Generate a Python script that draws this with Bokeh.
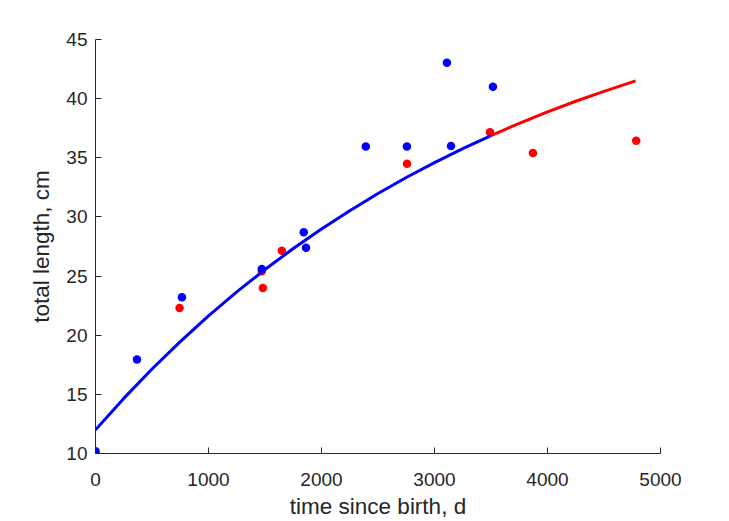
from bokeh.plotting import figure
from bokeh.models import Range1d, FixedTicker
from bokeh.embed import file_html
from bokeh.resources import INLINE

# observed data, blue series
blue_t = [0, 367, 765, 1472, 1843, 1863, 2392, 2756, 3110, 3146, 3517]
blue_L = [10.2, 17.95, 23.2, 25.6, 28.7, 27.4, 35.95, 35.95, 43.03, 36.0, 41.0]

# observed data, red series
red_t = [0, 744, 1472, 1481, 1649, 2757, 3491, 3871, 4785]
red_L = [10.0, 22.3, 25.4, 24.0, 27.15, 34.5, 37.15, 35.4, 36.45]

# fitted growth curve
fit_blue_t = [0, 250, 500, 750, 1000, 1250, 1500, 1750, 2000, 2250, 2500, 2750, 3000, 3250, 3500]
fit_blue_L = [12.0, 14.66, 17.14, 19.46, 21.63, 23.66, 25.55, 27.33, 28.98, 30.53, 31.98, 33.33, 34.59, 35.77, 36.88]
fit_red_t = [3500, 3750, 4000, 4250, 4500, 4780]
fit_red_L = [36.88, 37.91, 38.88, 39.78, 40.62, 41.50]

x_ticks = [0, 1000, 2000, 3000, 4000, 5000]
y_ticks = [10, 15, 20, 25, 30, 35, 40, 45]

x_label = "time since birth, d"
y_label = "total length, cm"

TXT = "#262626"
FONT = "Liberation Sans"

p = figure(width=729, height=521, output_backend="svg", toolbar_location=None,
           x_range=Range1d(0, 5000), y_range=Range1d(10, 45),
           min_border_left=95, min_border_right=69, min_border_top=39, min_border_bottom=68)
p.outline_line_color = None
p.xgrid.visible = False
p.ygrid.visible = False
p.background_fill_color = "white"
p.border_fill_color = "white"

for ax in (p.xaxis[0], p.yaxis[0]):
    ax.axis_line_color = TXT
    ax.axis_line_width = 1
    ax.major_tick_line_color = TXT
    ax.major_tick_in = 6
    ax.major_tick_out = 0
    ax.minor_tick_line_color = None
    ax.major_label_text_font = FONT
    ax.major_label_text_font_size = "19px"
    ax.major_label_text_color = TXT
    ax.axis_label_text_font = FONT
    ax.axis_label_text_font_size = "22.5px"
    ax.axis_label_text_color = TXT
    ax.axis_label_text_font_style = "normal"

p.xaxis.ticker = FixedTicker(ticks=x_ticks)
p.yaxis.ticker = FixedTicker(ticks=y_ticks)
p.xaxis.axis_label = x_label
p.yaxis.axis_label = y_label
p.xaxis.major_label_text_line_height = 1.0
p.xaxis.axis_label_text_line_height = 1.0
p.xaxis.major_label_standoff = 19
p.xaxis.axis_label_standoff = 5
p.yaxis.major_label_standoff = 8
p.yaxis.axis_label_standoff = 9

p.scatter(red_t, red_L, size=8.5, color="#FF0000", line_width=0)
p.scatter(blue_t, blue_L, size=8.5, color="#0000FF", line_width=0)
p.line(fit_blue_t, fit_blue_L, line_color="#0000FF", line_width=3)
p.line(fit_red_t, fit_red_L, line_color="#FF0000", line_width=3)

open("out.html", "w").write(file_html(p, INLINE))
